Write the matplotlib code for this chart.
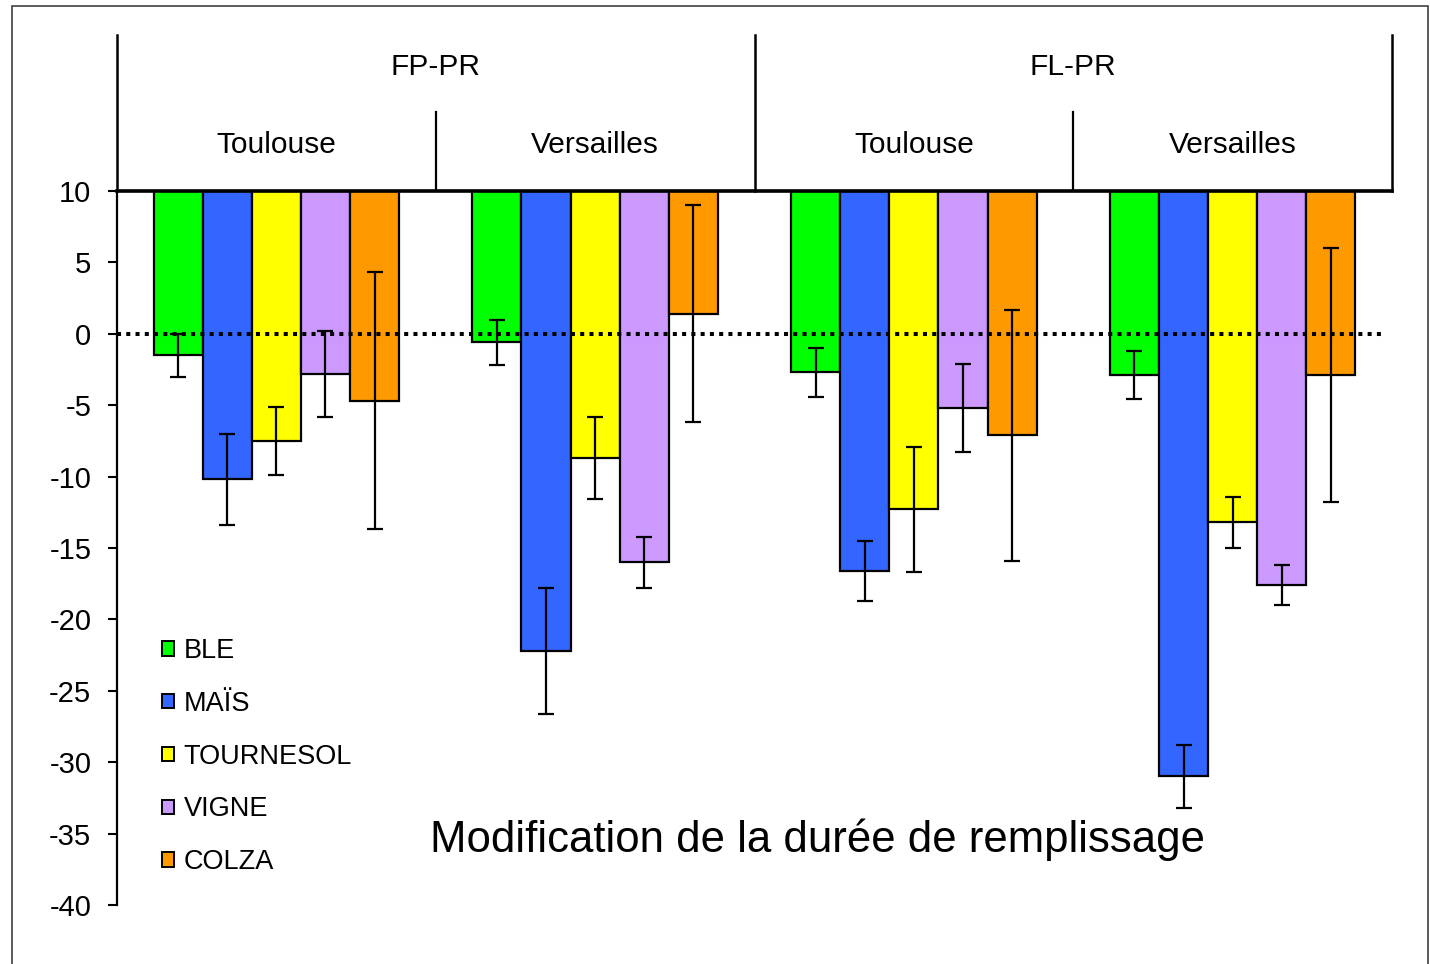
import matplotlib
matplotlib.use("Agg")
import matplotlib.pyplot as plt
from matplotlib.patches import Patch, Rectangle
import numpy as np

plt.rcParams['font.family'] = ['Liberation Sans', 'DejaVu Sans']
plt.rcParams['axes.unicode_minus'] = False

groups = ["FP-PR", "FL-PR"]
sites = ["Toulouse", "Versailles", "Toulouse", "Versailles"]
crops = ["BLE", "MAÏS", "TOURNESOL", "VIGNE", "COLZA"]
colors = ["#00FF00", "#3366FF", "#FFFF00", "#CC99FF", "#FF9900"]

ble = [-1.5, -0.6, -2.7, -2.9]
mais = [-10.2, -22.2, -16.6, -31.0]
tournesol = [-7.5, -8.7, -12.3, -13.2]
vigne = [-2.8, -16.0, -5.2, -17.6]
colza = [-4.7, 1.4, -7.1, -2.9]

ble_err = [1.5, 1.6, 1.7, 1.7]
mais_err = [3.2, 4.4, 2.1, 2.2]
tournesol_err = [2.4, 2.9, 4.4, 1.8]
vigne_err = [3.0, 1.8, 3.1, 1.4]
colza_err = [9.0, 7.6, 8.8, 8.9]

values = [ble, mais, tournesol, vigne, colza]
errors = [ble_err, mais_err, tournesol_err, vigne_err, colza_err]
title = "Modification de la durée de remplissage"

W, H = 1430, 964
fig = plt.figure(figsize=(W / 100, H / 100), dpi=100)
L, R, T, B = 117, 1392, 191, 905
ax = fig.add_axes([L / W, 1 - B / H, (R - L) / W, (B - T) / H])

ymax = 10
width = 0.154
x0 = np.arange(4) + 0.5
for k, (vals, errs, c, name) in enumerate(zip(values, errors, colors, crops)):
    xs = x0 + (k - 2) * width
    v = np.array(vals)
    ax.bar(xs, v - ymax, bottom=ymax, width=width, color=c, edgecolor='black',
           linewidth=1.6, zorder=2, label=name)
    ax.errorbar(xs, v, yerr=errs, fmt='none', ecolor='black', elinewidth=1.6,
                capsize=5.5, capthick=1.6, zorder=4)

ax.axhline(0, xmin=0, xmax=0.995, color='black', linewidth=2.9,
           linestyle=(0, (1.0, 1.3)), zorder=3)

ax.set_xlim(0, 4)
ax.set_ylim(-40, 10)
ax.set_yticks(np.arange(-40, 11, 5))
ax.set_xticks([])
ax.tick_params(axis='y', direction='out', length=6.5, width=1.5, pad=12,
               labelsize=21)
for s in ['right', 'bottom']:
    ax.spines[s].set_visible(False)
ax.spines['left'].set_linewidth(1.6)
ax.spines['top'].set_linewidth(2.6)
ax.spines['top'].set_zorder(5)

# header lines and labels
tr = ax.get_xaxis_transform()
ah = B - T
top_main = 1 + (T - 35) / ah
top_sub = 1 + (T - 112) / ah
for xv in [0, 2, 4]:
    ax.plot([xv, xv], [1, top_main], transform=tr, color='black', lw=1.8,
            clip_on=False)
for xv in [1, 3]:
    ax.plot([xv, xv], [1, top_sub], transform=tr, color='black', lw=1.6,
            clip_on=False)
y_grp = 1 + (T - 67) / ah
y_site = 1 + (T - 145) / ah
for i, g in enumerate(groups):
    ax.text(2 * i + 1, y_grp, g, transform=tr, ha='center', va='center',
            fontsize=21.5)
for i, s in enumerate(sites):
    ax.text(i + 0.5, y_site, s, transform=tr, ha='center', va='center',
            fontsize=21.5)

# legend
handles = [Patch(facecolor=c, edgecolor='black', linewidth=1.4) for c in colors]
leg = ax.legend(handles, crops, loc='upper left',
                bbox_to_anchor=((162 - L) / (R - L), 1 - (638 - T) / ah),
                frameon=False, fontsize=19.5, handlelength=0.45,
                handleheight=0.45, handletextpad=0.35, labelspacing=0.99,
                borderaxespad=0, borderpad=0)

ax.text(((437 + 1198) / 2 - L) / (R - L), 1 - (840 - T) / ah, title,
        transform=ax.transAxes, ha='center', va='center', fontsize=31.5)

fig.patches.append(Rectangle((12 / W, -0.01), (1428 - 12) / W, 1 - 6 / H + 0.01,
                             transform=fig.transFigure, fill=False,
                             edgecolor='#404040', linewidth=1.2))

fig.savefig("out.png", dpi=100)
